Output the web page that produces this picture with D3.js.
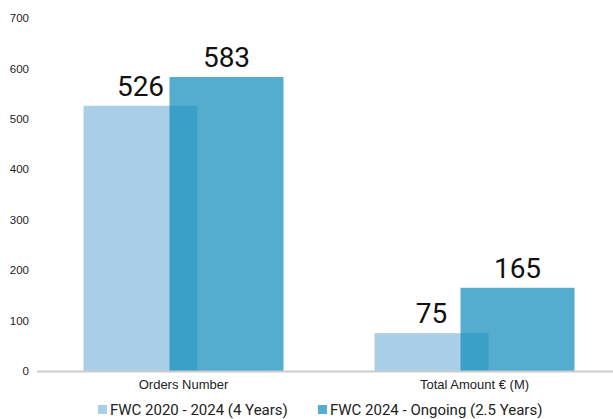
<!DOCTYPE html>
<html>
<head>
<meta charset="utf-8">
<script src="https://cdn.jsdelivr.net/npm/d3@7"></script>
<style>
  body { margin: 0; background: #fff; }
  svg { display: block; font-family: Roboto, "Noto Sans", sans-serif; }
</style>
</head>
<body>
<div id="chart"></div>
<script>
// ---- data ----
const categories = ["Orders Number", "Total Amount € (M)"];
const seriesNames = ["FWC 2020 - 2024 (4 Years)", "FWC 2024 - Ongoing (2.5 Years)"];
const oldValues = [526, 75];
const newValues = [583, 165];
const yTicks = [0, 100, 200, 300, 400, 500, 600, 700];

const width = 613;
const height = 419;

const svg = d3.select("#chart")
  .append("svg")
  .attr("width", width)
  .attr("height", height);

const y = d3.scaleLinear().domain([0, 700]).range([371, 18]);
const x = d3.scaleBand().domain(categories).range([38, 620]);

const barW = 114;
const shift = 43; // half the offset between the two overlapping bars
const colors = ["#a9cfe8", "rgba(14,139,186,0.71)"];

// y tick labels (no axis line)
const yAxis = d3.axisLeft(y).tickValues(yTicks).tickSize(0).tickPadding(0);
const gy = svg.append("g").attr("transform", "translate(29,0)").call(yAxis);
gy.select(".domain").remove();
gy.selectAll("text")
  .attr("fill", "#222")
  .style("font-size", "11.5px")
  .style("font-weight", "500");

// bars
const rows = categories.map((c, i) => ({ cat: c, vals: [oldValues[i], newValues[i]] }));

rows.forEach((r) => {
  const cx = x(r.cat) + x.bandwidth() / 2;
  r.vals.forEach((v, s) => {
    const bx = cx + (s === 0 ? -shift : shift) - barW / 2;
    svg.append("rect")
      .attr("x", bx)
      .attr("y", y(v))
      .attr("width", barW)
      .attr("height", y(0) - y(v))
      .attr("fill", colors[s]);
    svg.append("text")
      .attr("x", bx + barW / 2)
      .attr("y", y(v) - 10)
      .attr("text-anchor", "middle")
      .attr("fill", "#111")
      .style("font-size", "28px")
      .style("font-weight", "400")
      .text(v);
  });
});

// baseline
svg.append("line")
  .attr("x1", 37).attr("x2", 613)
  .attr("y1", y(0) + 0.5).attr("y2", y(0) + 0.5)
  .attr("stroke", "#cccccc")
  .attr("stroke-width", 2);

// category labels
const xAxis = d3.axisBottom(x).tickSize(0).tickPadding(8);
const gx = svg.append("g").attr("transform", `translate(0,${y(0) + 1})`).call(xAxis);
gx.select(".domain").remove();
gx.selectAll("text")
  .attr("fill", "#222")
  .style("font-size", "13px")
  .style("font-weight", "500");

// legend
const legendX = [98, 318];
const leg = svg.append("g");
seriesNames.forEach((name, i) => {
  leg.append("rect")
    .attr("x", legendX[i]).attr("y", 405)
    .attr("width", 9).attr("height", 9)
    .attr("fill", colors[i]);
  leg.append("text")
    .attr("x", legendX[i] + 12).attr("y", 415)
    .attr("fill", "#222")
    .style("font-size", "15px")
    .text(name);
});
</script>
</body>
</html>
